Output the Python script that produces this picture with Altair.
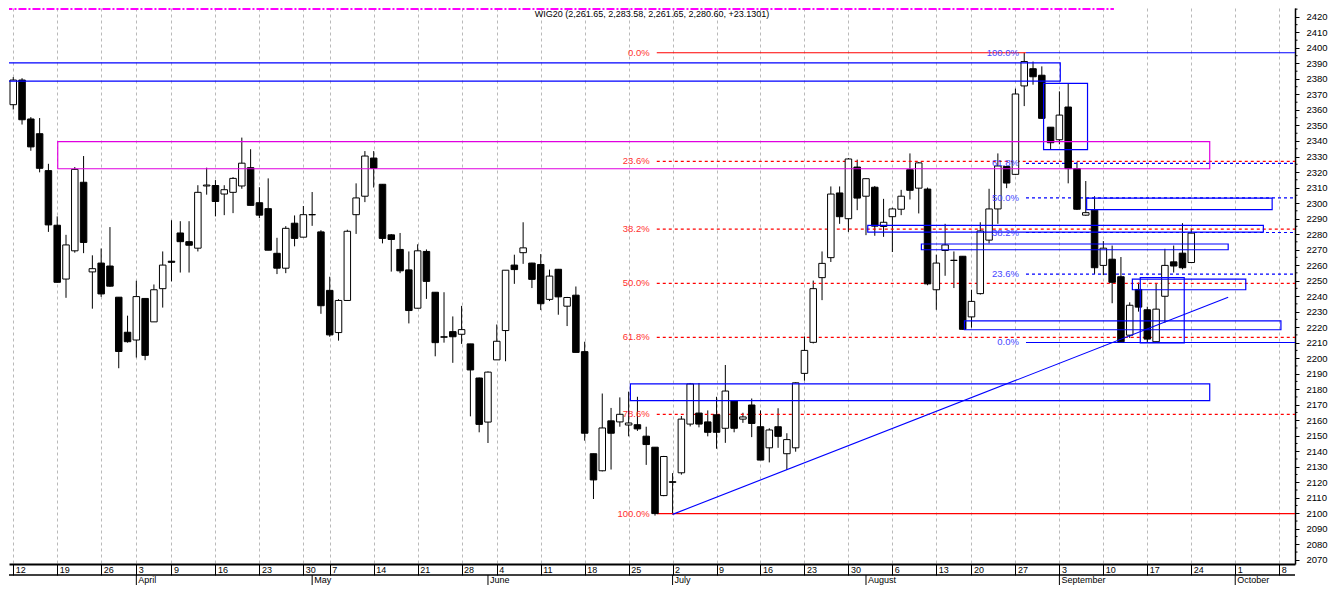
import altair as alt
import pandas as pd

TITLE = "WIG20 (2,261.65, 2,283.58, 2,261.65, 2,280.60, +23.1301)"

# ---- daily candles, trading-day index 0 .. 134 (12 Mar 2018 .. 24 Sep 2018) ----
opens = [
    2363.4, 2379.3, 2354.2, 2344.7, 2320.9,
    2285.7, 2251.0, 2269.2, 2313.4, 2255.6,
    2261.3, 2259.4, 2239.3, 2216.7, 2211.7,
    2238.5, 2223.4, 2244.8, 2262.5, 2280.7,
    2275.1, 2270.9, 2311.0, 2311.3, 2305.8,
    2306.9, 2311.0, 2322.8, 2300.2, 2296.4,
    2267.6, 2258.0, 2287.0, 2278.0, 2292.4,
    2281.4, 2243.7, 2216.5, 2237.2, 2292.5,
    2304.4, 2329.0, 2312.1, 2279.5, 2270.1,
    2256.9, 2232.2, 2268.8, 2242.5, 2213.8,
    2217.1, 2215.4, 2209.2, 2187.2, 2158.8,
    2198.9, 2217.8, 2260.0, 2268.0, 2261.3,
    2260.4, 2237.9, 2257.3, 2233.5, 2240.6,
    2204.2, 2138.4, 2127.4, 2159.6, 2158.9,
    2156.9, 2157.1, 2149.7, 2142.6, 2111.4,
    2119.9, 2126.1, 2157.5, 2164.6, 2158.9,
    2163.5, 2154.8, 2172.6, 2160.7, 2169.8,
    2155.8, 2142.2, 2155.8, 2138.4, 2142.2,
    2190.2, 2210.2, 2251.9, 2264.8, 2306.5,
    2289.9, 2323.2, 2304.4, 2310.2, 2284.9,
    2291.2, 2296.0, 2321.5, 2309.6, 2309.0,
    2244.1, 2269.4, 2263.1, 2265.7, 2226.6,
    2241.6, 2276.1, 2296.2, 2323.6, 2318.5,
    2375.5, 2386.6, 2382.4, 2348.9, 2340.8,
    2361.9, 2322.2, 2292.2, 2295.4, 2259.8,
    2263.8, 2252.5, 2214.8, 2244.3, 2231.2,
    2210.6, 2239.9, 2262.1, 2267.7, 2261.65,
]
highs = [
    2381.2, 2380.5, 2355.4, 2354.8, 2325.3,
    2291.4, 2279.5, 2323.2, 2330.3, 2266.3,
    2270.7, 2284.5, 2239.3, 2227.4, 2249.9,
    2238.5, 2247.5, 2268.8, 2288.9, 2288.3,
    2288.3, 2311.5, 2322.8, 2314.8, 2311.5,
    2316.7, 2342.2, 2334.7, 2310.2, 2315.9,
    2277.6, 2285.1, 2292.0, 2298.1, 2307.1,
    2282.5, 2252.5, 2238.0, 2282.8, 2312.7,
    2333.5, 2333.5, 2312.1, 2280.0, 2280.7,
    2268.8, 2273.4, 2270.1, 2242.5, 2242.5,
    2226.9, 2233.7, 2209.2, 2187.5, 2191.5,
    2221.7, 2256.7, 2266.7, 2287.6, 2261.5,
    2267.1, 2257.1, 2257.5, 2239.5, 2246.2,
    2210.6, 2138.4, 2177.2, 2167.9, 2174.7,
    2178.4, 2175.1, 2155.8, 2142.6, 2137.0,
    2125.9, 2162.7, 2184.0, 2184.0, 2166.3,
    2175.1, 2195.6, 2173.0, 2164.8, 2174.0,
    2166.3, 2154.8, 2167.7, 2151.6, 2184.5,
    2214.0, 2250.0, 2268.8, 2310.7, 2310.7,
    2329.0, 2328.0, 2316.0, 2311.0, 2302.7,
    2297.0, 2308.5, 2332.0, 2326.5, 2310.0,
    2266.7, 2286.6, 2268.8, 2265.7, 2244.1,
    2287.6, 2309.2, 2332.0, 2324.0, 2373.8,
    2396.9, 2391.2, 2388.1, 2349.0, 2372.0,
    2377.0, 2326.4, 2314.2, 2304.4, 2275.5,
    2272.6, 2265.2, 2236.0, 2248.7, 2233.2,
    2248.5, 2270.5, 2272.6, 2287.0, 2283.58,
]
lows = [
    2360.3, 2350.6, 2333.7, 2319.8, 2281.4,
    2248.7, 2238.9, 2268.0, 2267.7, 2231.9,
    2239.5, 2246.0, 2193.5, 2210.0, 2200.4,
    2198.7, 2223.4, 2232.6, 2249.5, 2255.2,
    2255.2, 2268.8, 2305.4, 2291.4, 2292.2,
    2293.5, 2309.2, 2298.5, 2290.3, 2269.6,
    2254.2, 2254.8, 2272.1, 2278.0, 2285.3,
    2228.6, 2213.8, 2211.3, 2237.0, 2280.1,
    2300.6, 2310.0, 2274.0, 2255.8, 2254.8,
    2222.4, 2232.0, 2238.2, 2201.2, 2210.0,
    2197.0, 2209.2, 2162.5, 2152.2, 2145.3,
    2198.9, 2198.0, 2247.9, 2260.8, 2245.2,
    2231.0, 2236.8, 2228.0, 2220.7, 2203.7,
    2146.8, 2109.2, 2127.0, 2128.2, 2155.8,
    2149.6, 2153.1, 2131.2, 2098.5, 2111.0,
    2099.3, 2124.9, 2156.0, 2155.4, 2149.6,
    2141.6, 2145.4, 2152.2, 2158.3, 2149.1,
    2134.3, 2132.8, 2142.2, 2128.0, 2139.7,
    2185.5, 2209.5, 2237.4, 2262.0, 2286.6,
    2281.4, 2295.4, 2279.3, 2278.9, 2278.2,
    2268.4, 2292.2, 2302.3, 2293.3, 2247.0,
    2231.2, 2253.1, 2245.2, 2218.4, 2219.7,
    2241.0, 2274.0, 2286.6, 2309.6, 2318.0,
    2362.5, 2376.3, 2354.6, 2334.7, 2337.9,
    2312.7, 2295.5, 2291.8, 2254.2, 2253.6,
    2235.4, 2210.3, 2213.0, 2230.0, 2210.2,
    2210.0, 2222.8, 2255.2, 2257.3, 2261.65,
]
closes = [
    2379.3, 2353.7, 2336.2, 2322.4, 2285.9,
    2248.9, 2273.0, 2321.7, 2274.6, 2257.7,
    2241.4, 2246.4, 2204.3, 2210.6, 2239.7,
    2201.8, 2244.1, 2260.0, 2261.8, 2275.1,
    2272.8, 2306.9, 2311.6, 2301.0, 2308.6,
    2315.9, 2325.7, 2298.5, 2292.2, 2269.6,
    2258.0, 2283.7, 2277.2, 2292.5, 2292.6,
    2233.8, 2215.0, 2237.2, 2281.8, 2303.3,
    2330.3, 2322.4, 2277.2, 2276.5, 2256.3,
    2230.7, 2269.2, 2249.5, 2210.0, 2213.5,
    2213.8, 2218.4, 2192.4, 2157.3, 2191.0,
    2210.9, 2256.7, 2257.1, 2271.1, 2250.8,
    2235.1, 2252.9, 2239.5, 2239.1, 2203.7,
    2151.6, 2121.5, 2155.0, 2151.6, 2163.8,
    2158.2, 2154.4, 2144.3, 2099.8, 2136.6,
    2120.4, 2160.7, 2183.4, 2157.5, 2152.2,
    2152.2, 2178.8, 2154.8, 2162.1, 2157.9,
    2134.3, 2153.7, 2149.6, 2147.5, 2184.1,
    2205.0, 2244.8, 2261.1, 2305.8, 2291.2,
    2328.4, 2303.2, 2315.7, 2285.1, 2287.6,
    2296.2, 2304.4, 2308.2, 2325.9, 2247.9,
    2261.3, 2273.0, 2263.0, 2218.6, 2236.6,
    2282.0, 2296.2, 2323.9, 2312.9, 2370.3,
    2391.2, 2381.4, 2354.6, 2338.9, 2356.7,
    2322.2, 2296.0, 2293.8, 2258.3, 2270.9,
    2248.9, 2210.6, 2234.1, 2232.9, 2212.3,
    2231.6, 2259.8, 2259.4, 2258.3, 2280.60,
]

# ---- calendar (trading-day index of each week start / month start) ----
week_idx = [0, 5, 10, 14, 18, 23, 28, 33, 36, 41, 46, 51, 55, 60, 65, 70,
            75, 80, 85, 90, 95, 100, 105, 109, 114, 119, 124, 129, 134, 139, 144]
week_lbl = ["12", "19", "26", "3", "9", "16", "23", "30", "7", "14", "21", "28",
            "4", "11", "18", "25", "2", "9", "16", "23", "30", "6", "13", "20",
            "27", "3", "10", "17", "24", "1", "8"]
month_idx = [14, 34, 54, 75, 97, 119, 139]
month_lbl = ["April", "May", "June", "July", "August", "September", "October"]

# ---- Fibonacci retracements ----
fib_red_lbl = ["0.0%", "23.6%", "38.2%", "50.0%", "61.8%", "78.6%", "100.0%"]
fib_red_val = [2396.9, 2326.8, 2283.2, 2248.2, 2213.4, 2163.7, 2099.8]
fib_red_from, fib_red_to_top = 73.2, 115.2
fib_blue_lbl = ["100.0%", "61.8%", "50.0%", "38.2%", "23.6%", "0.0%"]
fib_blue_val = [2396.9, 2325.6, 2303.3, 2281.0, 2254.2, 2210.1]
fib_blue_from = 115.2

# ---- drawn rectangles (blue) ----
box_x1 = [-1.0, 117.2, 122.1, 97.2, 103.3, 108.2, 127.3, 128.2, 70.2]
box_x2 = [119.1, 122.2, 143.2, 142.2, 138.2, 144.2, 140.2, 133.2, 136.1]
box_lo = [2378.6, 2334.5, 2295.7, 2281.3, 2269.9, 2218.3, 2244.1, 2209.9, 2172.6]
box_hi = [2390.4, 2377.2, 2303.2, 2285.6, 2273.6, 2224.1, 2251.0, 2252.0, 2183.4]
# magenta rectangle
mag_x = [5.06, 136.1]
mag_y = [2322.1, 2339.6]
# trend line
trend_x = [75.0, 138.2]
trend_y = [2099.3, 2239.2]
# top dash-dot line
top_x = [-1.0, 125.2]
top_y = 2425.2

# ---------------------------------------------------------------
W, H = 1286, 556
FONT = "Liberation Sans"
xs = alt.Scale(domain=[-0.484, 145.8], nice=False, zero=False)
ys = alt.Scale(domain=[2067.3, 2425.74], nice=False, zero=False)

lbl_expr = ("[" + ",".join("'%s'" % s for s in week_lbl) + "][indexof(["
            + ",".join(str(v) for v in week_idx) + "], datum.value)]")
x_axis = alt.Axis(values=week_idx, labelExpr=lbl_expr, title=None, grid=True,
                  gridDash=[3, 3], gridColor="#b9b9b9", gridWidth=1,
                  tickSize=11, tickColor="black", tickWidth=1,
                  domainColor="black", domainWidth=2,
                  labelPadding=-10, labelAlign="left", labelBaseline="top",
                  labelOffset=2, labelFlush=False, labelOverlap=False,
                  labelBound=False, labelFont=FONT, labelFontSize=9,
                  labelColor="black")
y_major = list(range(2070, 2426, 10))
y_minor = list(range(2075, 2426, 10))
y_axis = alt.Axis(orient="right", values=y_major, format="d",
                  title=None, grid=False, tickSize=4, tickColor="black",
                  domainColor="black", domainWidth=1.5, labelPadding=7,
                  labelFont=FONT, labelFontSize=9.5, labelColor="black",
                  labelFlush=False, labelOverlap=False, labelBound=False)


def X(f):
    return alt.X(f, type="quantitative", scale=xs, axis=x_axis)


def Y(f):
    return alt.Y(f, type="quantitative", scale=ys, axis=y_axis)


n = len(opens)
candles = pd.DataFrame({"i": list(range(n)), "o": opens, "h": highs,
                        "l": lows, "c": closes})

wicks = alt.Chart(candles).mark_rule(color="black", strokeWidth=1).encode(
    x=X("i"), y=Y("l"), y2="h:Q",
)
bodies = alt.Chart(candles).transform_calculate(
    x1="datum.i - 0.37", x2="datum.i + 0.37",
    fillc="datum.c >= datum.o ? 'white' : 'black'",
).mark_rect(stroke="black", strokeWidth=1).encode(
    x=X("x1"), x2="x2:Q", y=Y("o"), y2="c:Q",
    fill=alt.Fill("fillc:N", scale=None),
)

# Fibonacci lines
fib_rows = []
for lbl, v in zip(fib_red_lbl, fib_red_val):
    fib_rows.append(dict(x1=fib_red_from,
                         x2=fib_red_to_top if lbl == "0.0%" else 150.0,
                         y=v, col="#ff0000", tcol="#ff3030",
                         solid=lbl in ("0.0%", "100.0%"), lbl=lbl,
                         lx=fib_red_from - 0.8))
for lbl, v in zip(fib_blue_lbl, fib_blue_val):
    fib_rows.append(dict(x1=fib_blue_from, x2=150.0, y=v, col="#0000ff",
                         tcol="#4646ff", solid=lbl in ("0.0%", "100.0%"),
                         lbl=lbl, lx=fib_blue_from - 0.8))
fib = pd.DataFrame(fib_rows)

fib_solid = alt.Chart(fib[fib.solid]).mark_rule(strokeWidth=1.2, clip=True).encode(
    x=X("x1"), x2="x2:Q", y=Y("y"), color=alt.Color("col:N", scale=None))
fib_dash = alt.Chart(fib[~fib.solid]).mark_rule(strokeWidth=1.2, strokeDash=[3, 3],
                                                 clip=True).encode(
    x=X("x1"), x2="x2:Q", y=Y("y"), color=alt.Color("col:N", scale=None))
fib_text = alt.Chart(fib).mark_text(align="right", baseline="middle", font=FONT,
                                    fontSize=9.5).encode(
    x=X("lx"), y=Y("y"), text="lbl:N", color=alt.Color("tcol:N", scale=None))

boxes = pd.DataFrame({"x1": box_x1, "x2": box_x2, "lo": box_lo, "hi": box_hi})
box_layer = alt.Chart(boxes).mark_rect(fillOpacity=0, stroke="#0000ff",
                                       strokeWidth=1.2, clip=True).encode(
    x=X("x1"), x2="x2:Q", y=Y("lo"), y2="hi:Q")

mag = pd.DataFrame({"x1": [mag_x[0]], "x2": [mag_x[1]], "lo": [mag_y[0]], "hi": [mag_y[1]]})
mag_layer = alt.Chart(mag).mark_rect(fillOpacity=0, stroke="#e000e0",
                                     strokeWidth=1.2, clip=True).encode(
    x=X("x1"), x2="x2:Q", y=Y("lo"), y2="hi:Q")

trend = pd.DataFrame({"x": trend_x, "y": trend_y})
trend_layer = alt.Chart(trend).mark_line(color="#0000ff", strokeWidth=1.1,
                                         clip=True).encode(x=X("x"), y=Y("y"))

top = pd.DataFrame({"x1": [top_x[0]], "x2": [top_x[1]], "y": [top_y]})
top_layer = alt.Chart(top).mark_rule(color="#ff00ff", strokeWidth=2.5,
                                     strokeDash=[8, 2, 2, 2], clip=True).encode(
    x=X("x1"), x2="x2:Q", y=Y("y"))

# minor ticks on the price axis
minor = alt.Chart(pd.DataFrame({"v": y_minor})).mark_rule(
    color="black", strokeWidth=1).encode(
    x=alt.value(W), x2=alt.value(W + 2.5), y=Y("v"))

title_layer = alt.Chart(pd.DataFrame({"t": [TITLE]})).mark_text(
    align="center", baseline="middle", font=FONT, fontSize=9, color="black"
).encode(x=alt.value(W / 2), y=alt.value(6), text="t:N")

months = pd.DataFrame({"i": month_idx, "m": month_lbl})
month_rules = alt.Chart(months).mark_rule(color="black", strokeWidth=1).encode(
    x=X("i"), y=alt.value(H + 11), y2=alt.value(H + 21))
month_text = alt.Chart(months).mark_text(align="left", baseline="top", dx=2,
                                         font=FONT, fontSize=9, color="black").encode(
    x=X("i"), y=alt.value(H + 12), text="m:N")
sep = alt.Chart(pd.DataFrame({"a": [0]})).mark_rule(color="black", strokeWidth=1.5).encode(
    x=alt.value(0), x2=alt.value(W), y=alt.value(H + 11))

chart = alt.layer(
    wicks, top_layer, fib_dash, fib_solid, bodies, box_layer, mag_layer,
    trend_layer, fib_text, minor, title_layer, sep, month_rules, month_text,
).properties(
    width=W, height=H,
    padding={"left": 0, "right": 0, "top": 0, "bottom": 0},
).configure_view(strokeWidth=0)

chart.save("out.html", embed_options={"renderer": "svg", "actions": False})
